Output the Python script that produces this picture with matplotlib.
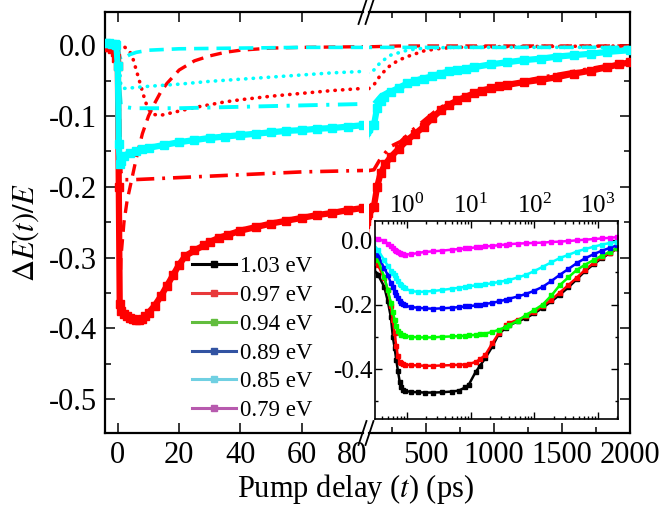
import matplotlib
matplotlib.use('Agg')
import matplotlib.pyplot as plt
from matplotlib.lines import Line2D
from matplotlib.ticker import FixedLocator, FormatStrFormatter, LogLocator, NullFormatter

plt.rcParams['font.family'] = ['Liberation Serif', 'DejaVu Serif']
plt.rcParams['mathtext.fontset'] = 'stix'
plt.rcParams['axes.unicode_minus'] = False

# ---------------- main panel data (ps, dE/E) ----------------
red_t = [-4, -3, -2, -1, -0.5, 0, 0.3, 0.6, 1, 2, 3, 4, 5, 6, 7, 8, 9, 10, 12, 14, 16, 18, 20, 22, 25, 28,
         30, 33, 36, 40, 45, 50, 55, 60, 65, 70, 75, 80,
         116, 140, 165, 200, 239, 300, 362, 420, 484, 545, 607, 670, 729, 790, 852, 910, 974, 1035, 1097,
         1220, 1342, 1465, 1587, 1710, 1832, 1920, 2000]
red_y = [-0.002, -0.003, -0.005, -0.010, -0.018, -0.03, -0.2, -0.365, -0.375, -0.38, -0.383, -0.385, -0.387,
         -0.388, -0.388, -0.387, -0.383, -0.378, -0.368, -0.355, -0.34, -0.325, -0.31, -0.298, -0.29, -0.283,
         -0.278, -0.272, -0.268, -0.262, -0.257, -0.252, -0.248, -0.244, -0.24, -0.237, -0.233, -0.23,
         -0.228, -0.2, -0.181, -0.168, -0.158, -0.146, -0.134, -0.125, -0.115, -0.103, -0.092, -0.084, -0.078,
         -0.073, -0.068, -0.064, -0.061, -0.058, -0.056, -0.052, -0.049, -0.045, -0.040, -0.036, -0.031,
         -0.027, -0.024]

cyan_t = [-4, -3, -2, -1, -0.5, 0, 0.3, 0.6, 1, 2, 4, 6, 8, 10, 15, 20, 25, 30, 35, 40, 45, 50, 55, 60, 65,
          70, 75, 80,
          116, 140, 165, 190, 239, 300, 362, 420, 484, 545, 607, 670, 729, 790, 852, 974, 1097, 1220, 1342,
          1465, 1587, 1710, 1832, 2000]
cyan_y = [0.003, 0.003, 0.002, 0.002, 0.0, -0.03, -0.14, -0.168, -0.163, -0.156, -0.152, -0.149, -0.147,
          -0.145, -0.141, -0.137, -0.134, -0.131, -0.129, -0.127, -0.125, -0.123, -0.121, -0.12, -0.118,
          -0.117, -0.115, -0.113,
          -0.113, -0.088, -0.079, -0.073, -0.066, -0.06, -0.054, -0.05, -0.047, -0.044, -0.040, -0.037,
          -0.035, -0.033, -0.031, -0.027, -0.024, -0.021, -0.019, -0.016, -0.014, -0.012, -0.0094, -0.007]

# fit components, red (0.97 eV)
red_dashdot_t = [0, 0.5, 1, 2, 5, 10, 20, 30, 40, 50, 60, 70, 80, 116, 165, 239, 313, 400, 600, 1000, 1500, 2000]
red_dashdot_y = [0, -0.1, -0.18, -0.19, -0.19, -0.189, -0.187, -0.185, -0.183, -0.181, -0.179, -0.178, -0.177,
                 -0.176, -0.16, -0.143, -0.136, -0.12, -0.088, -0.058, -0.04, -0.023]
red_dash_t = [0, 0.3, 0.6, 1, 2, 3, 4, 6, 8, 10, 12, 14, 16, 20, 25, 30, 35, 40, 50, 60, 80, 116, 300, 2000]
red_dash_y = [0, -0.2, -0.36, -0.3, -0.25, -0.22, -0.2, -0.16, -0.125, -0.1, -0.082, -0.066, -0.054, -0.035,
              -0.022, -0.015, -0.01, -0.007, -0.004, -0.003, -0.002, -0.002, -0.001, -0.001]
red_dot_t = [0, 1, 2, 3, 4, 5, 6, 7, 8, 9, 10, 11, 12, 14, 16, 20, 25, 30, 35, 40, 50, 60, 70, 80,
             116, 165, 239, 300, 362, 484, 582, 700, 1000, 2000]
red_dot_y = [0, 0, -0.002, -0.005, -0.01, -0.02, -0.035, -0.05, -0.065, -0.08, -0.09, -0.096, -0.098, -0.099,
             -0.097, -0.093, -0.088, -0.084, -0.08, -0.077, -0.072, -0.068, -0.064, -0.061,
             -0.056, -0.042, -0.028, -0.021, -0.016, -0.008, -0.005, -0.003, -0.002, -0.001]

# fit components, cyan (0.85 eV)
cyan_dot_t = [0, 0.5, 1, 2, 5, 10, 20, 30, 40, 50, 60, 70, 80, 116, 165, 239, 362, 484, 700, 2000]
cyan_dot_y = [0, -0.03, -0.058, -0.061, -0.06, -0.058, -0.055, -0.051, -0.048, -0.045, -0.042, -0.039, -0.037,
              -0.035, -0.024, -0.014, -0.007, -0.004, -0.003, -0.003]
cyan_dash_t = [0, 0.5, 1, 2, 4, 6, 10, 20, 40, 60, 80, 2000]
cyan_dash_y = [0, -0.015, -0.02, -0.018, -0.013, -0.01, -0.007, -0.005, -0.004, -0.003, -0.003, -0.003]
cyan_dashdot_t = [0, 0.5, 1, 2, 5, 10, 20, 40, 60, 80, 116, 165, 239, 362, 600, 1000, 1500, 2000]
cyan_dashdot_y = [0, -0.06, -0.085, -0.087, -0.089, -0.089, -0.089, -0.087, -0.085, -0.083, -0.082, -0.071,
                  -0.063, -0.052, -0.039, -0.026, -0.015, -0.007]

# ---------------- inset data (log time) ----------------
inset_t = [0.29, 0.35, 0.44, 0.50, 0.56, 0.60, 0.64, 0.68, 0.72, 0.77, 0.81, 0.86, 0.92, 1.17, 1.5, 1.9,
           2.6, 3.5, 5.0, 6.5, 8.2, 9.3, 11.9, 14, 17, 21.9, 27.8, 35.5, 40, 55, 74, 100, 135, 185, 250,
           340, 460, 620, 850, 1150, 1550, 1990]
e103 = [-0.087, -0.107, -0.145, -0.19, -0.24, -0.30, -0.335, -0.372, -0.405, -0.44, -0.455, -0.465, -0.468,
        -0.471, -0.472, -0.473, -0.473, -0.472, -0.47, -0.467, -0.457, -0.449, -0.41, -0.39, -0.366, -0.33,
        -0.29, -0.273, -0.265, -0.252, -0.242, -0.227, -0.21, -0.19, -0.17, -0.147, -0.122, -0.097, -0.075,
        -0.056, -0.04, -0.026]
e097 = [-0.052, -0.077, -0.119, -0.155, -0.206, -0.248, -0.289, -0.33, -0.361, -0.377, -0.382, -0.385, -0.386,
        -0.388, -0.389, -0.39, -0.39, -0.389, -0.388, -0.387, -0.386, -0.385, -0.378, -0.37, -0.356, -0.32,
        -0.288, -0.265, -0.258, -0.247, -0.237, -0.222, -0.205, -0.185, -0.163, -0.14, -0.117, -0.093, -0.071,
        -0.053, -0.039, -0.025]
e094 = [-0.036, -0.062, -0.114, -0.155, -0.196, -0.222, -0.248, -0.268, -0.281, -0.289, -0.293, -0.296, -0.298,
        -0.3, -0.302, -0.302, -0.302, -0.3, -0.299, -0.298, -0.297, -0.296, -0.294, -0.292, -0.29, -0.285,
        -0.278, -0.27, -0.265, -0.25, -0.232, -0.217, -0.2, -0.172, -0.14, -0.116, -0.093, -0.077, -0.062,
        -0.048, -0.036, -0.024]
e089 = [-0.026, -0.046, -0.088, -0.108, -0.134, -0.147, -0.16, -0.17, -0.18, -0.188, -0.194, -0.199, -0.203,
        -0.208, -0.21, -0.212, -0.213, -0.212, -0.21, -0.208, -0.206, -0.205, -0.203, -0.201, -0.198, -0.195,
        -0.19, -0.185, -0.182, -0.175, -0.167, -0.157, -0.145, -0.127, -0.108, -0.09, -0.072, -0.057, -0.044,
        -0.033, -0.024, -0.016]
e085 = [-0.010, -0.031, -0.062, -0.08, -0.095, -0.102, -0.108, -0.118, -0.127, -0.135, -0.14, -0.146, -0.15,
        -0.158, -0.161, -0.16, -0.158, -0.155, -0.151, -0.148, -0.145, -0.143, -0.141, -0.139, -0.137, -0.134,
        -0.13, -0.126, -0.124, -0.116, -0.108, -0.096, -0.083, -0.069, -0.056, -0.046, -0.036, -0.028, -0.021,
        -0.014, -0.009, -0.005]
e079 = [0.005, 0.003, -0.002, -0.012, -0.02, -0.025, -0.03, -0.034, -0.037, -0.04, -0.042, -0.044, -0.045,
        -0.044, -0.04, -0.037, -0.035, -0.033, -0.03, -0.028, -0.026, -0.025, -0.023, -0.022, -0.02, -0.018,
        -0.016, -0.014, -0.013, -0.011, -0.01, -0.009, -0.008, -0.006, -0.005, -0.003, -0.001, 0.001, 0.003,
        0.005, 0.007, 0.009]

inset_series = [e103, e097, e094, e089, e085, e079]
inset_labels = ['1.03 eV', '0.97 eV', '0.94 eV', '0.89 eV', '0.85 eV', '0.79 eV']
inset_colors = ['#000000', '#ff0000', '#00ff00', '#0000ff', '#00ffff', '#ff00ff']
legend_colors = ['#000000', '#e8393b', '#62bd3e', '#3253a2', '#70d0e2', '#b75aae']

W, H = 665, 518
fig = plt.figure(figsize=(W / 100, H / 100), dpi=100)


def box(l, t, r, b):
    return [l / W, (H - b) / H, (r - l) / W, (b - t) / H]


ax1 = fig.add_axes(box(105, 12, 363, 433))
ax2 = fig.add_axes(box(369, 12, 630, 433))

for ax in (ax1, ax2):
    ax.plot(red_dash_t, red_dash_y, color='red', lw=2.4, ls=(0, (3.5, 2.2)), zorder=2)
    ax.plot(red_dot_t, red_dot_y, color='red', lw=2.6, ls=(0, (0.1, 2.0)), dash_capstyle='round', zorder=2)
    ax.plot(red_dashdot_t, red_dashdot_y, color='red', lw=2.6, ls=(0, (5, 2.2, 0.8, 2.2)), zorder=2)
    ax.plot(cyan_dash_t, cyan_dash_y, color='cyan', lw=2.6, ls=(0, (4, 2.2)), zorder=2)
    ax.plot(cyan_dot_t, cyan_dot_y, color='cyan', lw=2.6, ls=(0, (0.1, 2.0)), dash_capstyle='round', zorder=2)
    ax.plot(cyan_dashdot_t, cyan_dashdot_y, color='cyan', lw=2.8, ls=(0, (5, 2.2, 0.8, 2.2)), zorder=2)
    ax.plot(red_t, red_y, color='red', lw=4.5, marker='s', ms=5.5, zorder=3)
    ax.plot(cyan_t, cyan_y, color='cyan', lw=4.5, marker='s', ms=5.5, zorder=3)
    ax.set_ylim(-0.548, 0.047)
    ax.yaxis.set_major_locator(FixedLocator([-0.5, -0.4, -0.3, -0.2, -0.1, 0.0]))
    ax.yaxis.set_minor_locator(FixedLocator([-0.55, -0.45, -0.35, -0.25, -0.15, -0.05]))
    ax.yaxis.set_major_formatter(FormatStrFormatter('%.1f'))
    ax.tick_params(which='both', direction='in', top=True, width=1.1, labelsize=22)
    ax.tick_params(which='major', length=7)
    ax.tick_params(which='minor', length=4.5)
    ax.tick_params(axis='x', pad=6)
    ax.tick_params(axis='y', pad=6)
    for s in ax.spines.values():
        s.set_linewidth(1.6)

ax1.set_xlim(-4.2, 80)
ax1.xaxis.set_major_locator(FixedLocator([0, 20, 40, 60]))
ax1.spines['right'].set_visible(False)
ax1.tick_params(which='both', right=False)
# the "80" label sits just left of the break, without a tick
ax1.annotate('80', xy=(76.4, 0), xycoords=('data', 'axes fraction'), xytext=(0, -6),
             textcoords='offset points', ha='center', va='top', fontsize=22)

ax2.set_xlim(80, 2000)
ax2.xaxis.set_major_locator(FixedLocator([500, 1000, 1500, 2000]))
ax2.xaxis.set_minor_locator(FixedLocator([250, 750, 1250, 1750]))
ax2.spines['left'].set_visible(False)
ax2.tick_params(which='both', left=False, labelleft=False, right=True)

# axis break marks
for px in (362.5, 369.5):
    for py in (433, 12):
        fig.add_artist(Line2D([(px - 4) / W, (px + 4) / W], [(H - py - 12) / H, (H - py + 12) / H],
                              transform=fig.transFigure, color='black', lw=1.3))

fig.text(355 / W, (H - 489) / H, 'Pump delay ($t$) (ps)', ha='center', va='center', fontsize=22)
fig.text(26 / W, (H - 232) / H, r'$\Delta E(t)/E$', ha='center', va='center', rotation=90, fontsize=22)

# legend for the inset series
handles = [Line2D([], [], color=c, lw=2.2, marker='s', ms=5) for c in legend_colors]
ax1.legend(handles, inset_labels, loc='upper left', bbox_to_anchor=(192 / W, (H - 256) / H),
           bbox_transform=fig.transFigure, frameon=False, fontsize=16.5, borderpad=0, borderaxespad=0,
           handlelength=1.9, handletextpad=0.2, labelspacing=0.34)

# inset
axi = fig.add_axes(box(375, 221, 618, 419))
axi.set_facecolor('white')
for ys, c in zip(inset_series, inset_colors):
    axi.plot(inset_t, ys, color=c, lw=1.8, marker='s', ms=3.2)
axi.set_xscale('log')
axi.set_xlim(0.315, 2050)
axi.set_ylim(-0.555, 0.059)
axi.yaxis.set_major_locator(FixedLocator([-0.4, -0.2, 0.0]))
axi.yaxis.set_minor_locator(FixedLocator([-0.5, -0.3, -0.1]))
axi.yaxis.set_major_formatter(FormatStrFormatter('%.1f'))
axi.xaxis.set_major_locator(LogLocator(base=10, numticks=10))
axi.xaxis.set_minor_locator(LogLocator(base=10, subs=range(2, 10), numticks=10))
axi.xaxis.set_minor_formatter(NullFormatter())
axi.tick_params(which='both', direction='in', top=True, right=True, bottom=True,
                labeltop=True, labelbottom=False, width=1.0, labelsize=18, pad=2)
axi.tick_params(which='major', length=5)
axi.tick_params(which='minor', length=2.5)
for s in axi.spines.values():
    s.set_linewidth(1.2)

fig.savefig('out.png', dpi=100)
